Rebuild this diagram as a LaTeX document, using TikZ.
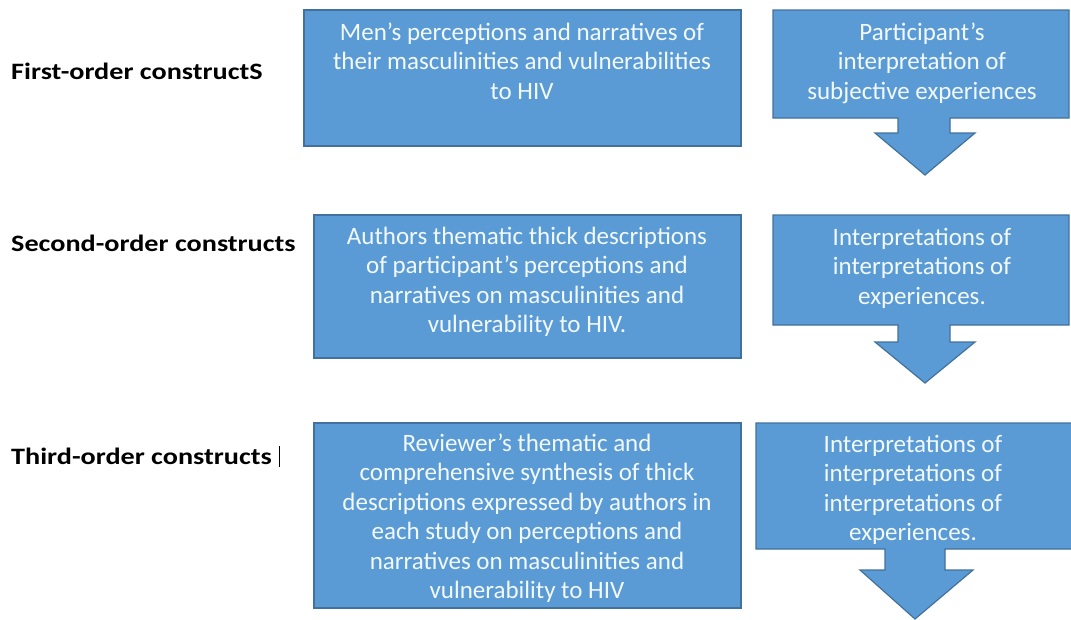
\documentclass[tikz,border=0pt]{standalone}
\usepackage{fontspec}
\setmainfont{Carlito}
\newfontfamily\labelfont[FakeStretch=1.2]{Carlito Bold}
\begin{document}
\begin{tikzpicture}[x=1pt,y=-1pt,
  boxfill/.style={fill=boxblue,draw=boxedge,line width=1.2pt},
  boxtext/.style={text=boxink,align=center,font=\fontsize{25}{29.5}\selectfont,inner sep=0pt},
  rowlabel/.style={anchor=west,font=\labelfont\fontsize{23.5}{28}\selectfont,inner sep=0pt}]
\definecolor{boxblue}{HTML}{5B9BD5}
\definecolor{boxedge}{HTML}{41719C}
\definecolor{boxink}{HTML}{F2F9FD}
\useasboundingbox (0,0) rectangle (1071,619);

% row labels
\node[rowlabel] (l1) at (11,71) {First-order constructS};
\node[rowlabel] (l2) at (11,243) {Second-order constructs};
\node[rowlabel] (l3) at (11,456) {Third-order constructs};
\draw[line width=1pt] ([xshift=7pt]l3.east |- 0,446) -- ([xshift=7pt]l3.east |- 0,467);

% description boxes
\draw[boxfill] (304,10) rectangle (741,146);
\node[boxtext] (b1) at (522,61) {Men’s perceptions and narratives of\\their masculinities and vulnerabilities\\to HIV};
\draw[boxfill] (314,215) rectangle (741,358);
\node[boxtext] (b2) at (527,282) {Authors thematic thick descriptions\\of participant’s perceptions and\\narratives on masculinities and\\vulnerability to HIV.};
\draw[boxfill] (314,423) rectangle (741,608);
\node[boxtext] (b3) at (527,518) {Reviewer’s thematic and\\comprehensive synthesis of thick\\descriptions expressed by authors in\\each study on perceptions and\\narratives on masculinities and\\vulnerability to HIV};

% down-arrow callouts
\draw[boxfill] (773,10) -- (1069,10) -- (1069,118) -- (950,118) -- (950,133) -- (975,133)
  -- (925,175) -- (875,133) -- (898,133) -- (898,118) -- (773,118) -- cycle;
\node[boxtext] (c1) at (922,63) {Participant’s\\interpretation of\\subjective experiences};
\draw[boxfill] (773,215) -- (1069,215) -- (1069,325) -- (950,325) -- (950,342) -- (975,342)
  -- (925,383) -- (875,342) -- (898,342) -- (898,325) -- (773,325) -- cycle;
\node[boxtext] (c2) at (922,268) {Interpretations of\\interpretations of\\experiences.};
\draw[boxfill] (756,423) -- (1072,423) -- (1072,549) -- (945,549) -- (945,570) -- (973,570)
  -- (915,619) -- (860,570) -- (885,570) -- (885,549) -- (756,549) -- cycle;
\node[boxtext] (c3) at (913,490) {Interpretations of\\interpretations of\\interpretations of\\experiences.};
\end{tikzpicture}
\end{document}
